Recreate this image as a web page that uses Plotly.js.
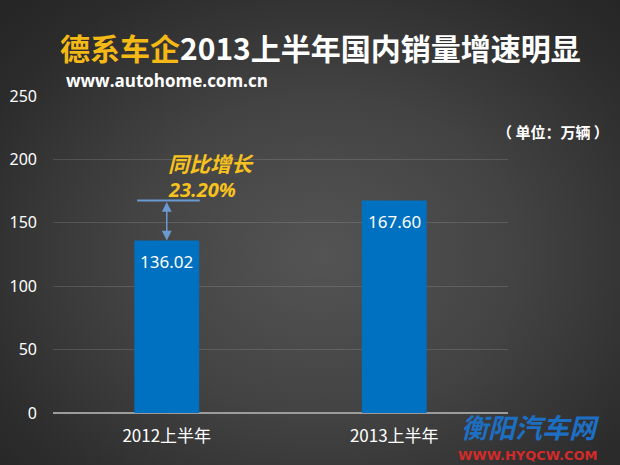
<!DOCTYPE html>
<html>
<head>
<meta charset="utf-8">
<script src="https://cdn.plot.ly/plotly-3.0.1.min.js"></script>
<style>
  html, body { margin:0; padding:0; width:620px; height:465px; overflow:hidden;
    background: radial-gradient(ellipse 70% 75% at 52% 55%, #545454 0%, #434343 45%, #2c2c2c 85%, #262626 100%); }
  #chart { width:620px; height:465px; }
</style>
</head>
<body>
<div id="chart"></div>
<script>
const categories = ['2012上半年', '2013上半年'];
const sales = [136.02, 167.60];
const valueLabels = ['136.02', '167.60'];
const yTicks = [0, 50, 100, 150, 200, 250];
const growthLabel = '同比增长';
const growthValue = '23.20%';

const CJK = '"Noto Sans CJK SC", "Noto Sans", sans-serif';

const trace = {
  type: 'bar',
  x: categories,
  y: sales,
  marker: { color: '#0070c0', line: { width: 0 } },
  width: 0.285,
  hoverinfo: 'none'
};

const valueAnns = categories.map((c, i) => ({
  xref: 'x', yref: 'y', x: c, y: sales[i], yshift: -21, xanchor: 'center', yanchor: 'middle',
  showarrow: false, text: valueLabels[i],
  font: { color: '#ffffff', size: 17, family: '"Noto Sans", sans-serif' }
}));

const layout = {
  width: 620, height: 465,
  paper_bgcolor: 'rgba(0,0,0,0)',
  plot_bgcolor: 'rgba(0,0,0,0)',
  margin: { l: 53, r: 112, t: 96, b: 52 },
  showlegend: false,
  xaxis: {
    type: 'category',
    range: [-0.5, 1.5],
    showgrid: false,
    showline: false,
    zeroline: false,
    ticks: '',
    ticklabelstandoff: 11,
    tickfont: { color: '#ffffff', size: 17, family: CJK }
  },
  yaxis: {
    range: [0, 250],
    tickvals: yTicks,
    showgrid: true,
    gridcolor: 'rgba(255,255,255,0.13)',
    gridwidth: 1,
    zeroline: true,
    zerolinecolor: '#9c9c9c',
    zerolinewidth: 2,
    showline: false,
    ticks: '',
    ticklabelstandoff: 15,
    tickfont: { color: '#ffffff', size: 16, family: '"Noto Sans", sans-serif' }
  },
  shapes: [
    { type: 'line', xref: 'x', yref: 'y', x0: -0.13, x1: 0.145, y0: sales[1], y1: sales[1],
      line: { color: '#6b9ad0', width: 2 } }
  ],
  annotations: valueAnns.concat([
    { xref: 'x', yref: 'y', axref: 'x', ayref: 'y', x: 0, y: sales[0], ax: 0, ay: sales[1],
      showarrow: true, arrowhead: 2, startarrowhead: 2, arrowside: 'end+start', arrowsize: 1.3,
      arrowwidth: 1.5, arrowcolor: '#6b9ad0', text: '', standoff: 0, startstandoff: 0 },
    { xref: 'paper', yref: 'paper', x: (166-53)/455, y: (413-163)/317, xanchor: 'left', yanchor: 'middle',
      showarrow: false, text: '<b><i>' + growthLabel + '</i></b>',
      font: { color: '#f7c21e', size: 21, family: CJK } },
    { xref: 'paper', yref: 'paper', x: (166-53)/455, y: (413-189)/317, xanchor: 'left', yanchor: 'middle',
      showarrow: false, text: '<b><i>' + growthValue + '</i></b>',
      font: { color: '#f7c21e', size: 20, family: '"Open Sans", sans-serif' } },
    { xref: 'paper', yref: 'paper', x: (58-53)/455, y: (413-47)/317, xanchor: 'left', yanchor: 'middle',
      showarrow: false,
      text: '<b><span style="color:#f5b916">德系车企</span>2013上半年国内销量增速明显</b>',
      font: { color: '#ffffff', size: 30, family: CJK } },
    { xref: 'paper', yref: 'paper', x: (64-53)/455, y: (413-80)/317, xanchor: 'left', yanchor: 'middle',
      showarrow: false, text: '<b>www.autohome.com.cn</b>',
      font: { color: '#ffffff', size: 17, family: '"Open Sans", sans-serif' } },
    { xref: 'paper', yref: 'paper', x: (611-53)/455, y: (413-131)/317, xanchor: 'right', yanchor: 'middle',
      showarrow: false, text: '<b>（ 单位：万辆 ）</b>',
      font: { color: '#ffffff', size: 15, family: CJK } },
    { xref: 'paper', yref: 'paper', x: (530-53)/455, y: (413-426)/317, xanchor: 'center', yanchor: 'middle',
      showarrow: false, text: '<b><i>衡阳汽车网</i></b>',
      font: { color: '#1d6fc4', size: 27, family: CJK } },
    { xref: 'paper', yref: 'paper', x: (528-53)/455, y: (413-455)/317, xanchor: 'center', yanchor: 'middle',
      showarrow: false, text: '<b>WWW.HYQCW.COM</b>',
      font: { color: '#d42a2a', size: 13, family: '"DejaVu Sans", sans-serif' } }
  ])
};

Plotly.newPlot('chart', [trace], layout, { displayModeBar: false, staticPlot: true });
</script>
</body>
</html>
